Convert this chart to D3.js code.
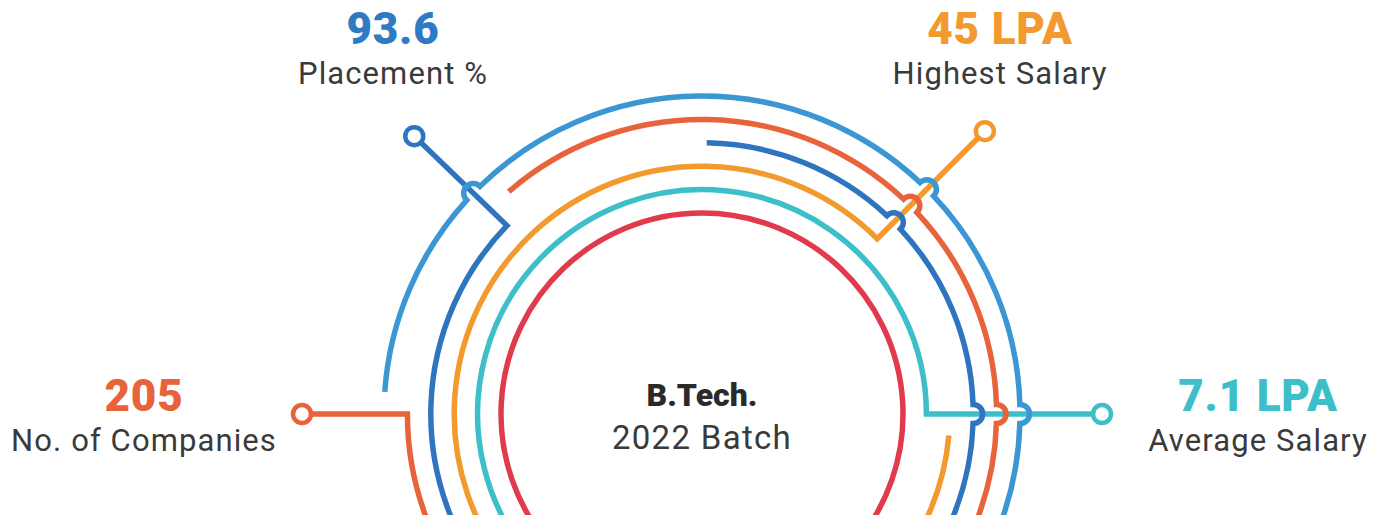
<!DOCTYPE html>
<head>
<meta charset="utf-8">
<script src="https://d3js.org/d3.v7.min.js"></script>
<style>
  body { margin: 0; background: #fff; }
  text { font-family: Roboto, "Open Sans", sans-serif; }
</style>
</head>
<body>
<svg id="chart" width="1380" height="515"></svg>
<script>
// stats round the rings
var statValues = ["93.6", "45 LPA", "205", "7.1 LPA"];
var statLabels = ["Placement %", "Highest Salary", "No. of Companies", "Average Salary"];
var statColors = ["#2f7ac3", "#f29a2e", "#e8623c", "#3dbfca"];
// which ring each stat's lead comes out of, and at what angle (deg, clockwise from 3 o'clock)
var statRings = [3, 2, 4, 1];
var statAngles = [224, 315, 180, 360];

var centerTitle = "B.Tech.";
var centerSub = "2022 Batch";

// rings, inner to outer
var ringColors = ["#e03a4c", "#3dbfca", "#f29a2e", "#2f74bf", "#e8623c", "#3b96d4"];
var ringPieces = [
  [[140, 400]],
  [[140, 360]],
  [[140, 315], [365, 400]],
  [[140, 224], [271, 400]],
  [[140, 180], [229, 400]],
  [[184, 400]]
];

// layout
var cx = 702, cy = 414;
var markerR = 400, dotR = 9, hopR = 9.5, lineW = 5.5;
var labelPos = [
  {x: 393, y: 44},
  {x: 1000, y: 44},
  {x: 144, y: 411},
  {x: 1258, y: 411}
];

var svg = d3.select("#chart");
var rScale = d3.scaleLinear().domain([0, 5]).range([201, 318]);
var rad = function(d) { return d * Math.PI / 180; };

// crossings: a lead passes every ring outside its own
var hops = ringPieces.map(function() { return []; });
statAngles.forEach(function(a, s) {
  for (var i = statRings[s] + 1; i < ringPieces.length; i++) {
    ringPieces[i].forEach(function(p) {
      if (a > p[0] && a < p[1]) hops[i].push(a);
    });
  }
});

ringPieces.forEach(function(pieces, i) {
  var r = rScale(i);
  pieces.forEach(function(p) {
    var path = d3.path();
    var h = hops[i].filter(function(a) { return a > p[0] && a < p[1]; }).sort(d3.ascending);
    var from = rad(p[0]);
    var dh = Math.asin(hopR / r);
    path.moveTo(cx + r * Math.cos(from), cy + r * Math.sin(from));
    h.forEach(function(a) {
      var t = rad(a);
      path.arc(cx, cy, r, from, t - dh, false);
      var px = cx + r * Math.cos(t), py = cy + r * Math.sin(t);
      path.arc(px, py, hopR, t - Math.PI / 2, t + Math.PI / 2, false);
      from = t + dh;
    });
    path.arc(cx, cy, r, from, rad(p[1]), false);
    // lead out to the marker if this piece ends where a stat starts
    statAngles.forEach(function(a, s) {
      if (statRings[s] == i && a == p[1]) {
        var t = rad(a);
        path.lineTo(cx + (markerR - dotR) * Math.cos(t), cy + (markerR - dotR) * Math.sin(t));
      }
    });
    svg.append("path")
      .attr("d", path.toString())
      .attr("fill", "none")
      .attr("stroke", ringColors[i])
      .attr("stroke-width", lineW)
      .attr("stroke-linejoin", "miter");
  });
});

// marker dots
svg.selectAll("circle.dot")
  .data(statAngles)
  .enter().append("circle")
  .attr("class", "dot")
  .attr("cx", function(a) { return cx + markerR * Math.cos(rad(a)); })
  .attr("cy", function(a) { return cy + markerR * Math.sin(rad(a)); })
  .attr("r", dotR)
  .attr("fill", "#fff")
  .attr("stroke", function(a, s) { return ringColors[statRings[s]]; })
  .attr("stroke-width", 4.5);

// stat labels
statValues.forEach(function(v, s) {
  var pos = labelPos[s];
  svg.append("text")
    .attr("x", pos.x).attr("y", pos.y)
    .attr("text-anchor", "middle")
    .attr("font-size", "44px")
    .attr("font-weight", 900)
    .attr("letter-spacing", "0.8px")
    .attr("fill", statColors[s])
    .text(v);
  svg.append("text")
    .attr("x", pos.x).attr("y", pos.y + 40)
    .attr("text-anchor", "middle")
    .attr("font-size", "31px")
    .attr("letter-spacing", "1.1px")
    .attr("fill", "#3a3a3a")
    .text(statLabels[s]);
});

svg.append("text")
  .attr("x", cx).attr("y", 406)
  .attr("text-anchor", "middle")
  .attr("font-size", "32px")
  .attr("font-weight", 900)
  .attr("fill", "#2a2a2a")
  .text(centerTitle);
svg.append("text")
  .attr("x", cx).attr("y", 449)
  .attr("text-anchor", "middle")
  .attr("font-size", "33px")
  .attr("letter-spacing", "1.3px")
  .attr("fill", "#3a3a3a")
  .text(centerSub);
</script>
</body>
</html>
